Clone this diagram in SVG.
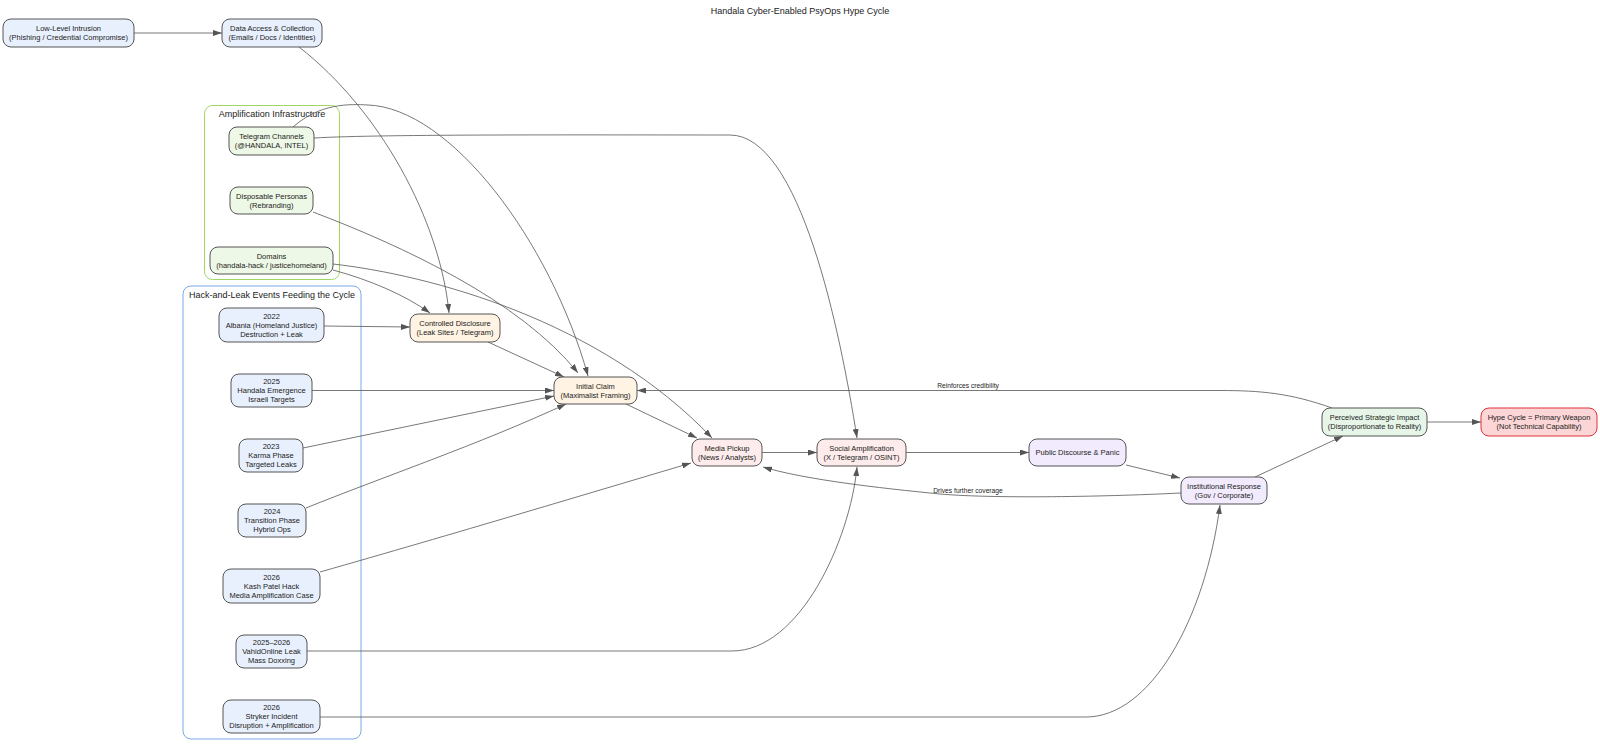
<svg xmlns="http://www.w3.org/2000/svg" width="1600" height="748" viewBox="0 0 1600 748">
<style>
text{font-family:"Liberation Sans",Arial,sans-serif;fill:#222;}
.n{font-size:7.5px;text-anchor:middle;dominant-baseline:central;}
.el{font-size:6.7px;text-anchor:middle;}
.ct{font-size:9px;text-anchor:middle;}
.title{font-size:9px;text-anchor:middle;}
rect.b{stroke:#555;stroke-width:1;}
.blue{fill:#e8f0fe;}
.green{fill:#eef8e6;}
.orange{fill:#fff3e3;}
.pink{fill:#fdeceb;}
.purple{fill:#f2eafd;}
.mint{fill:#e6f5e8;}
.red{fill:#fcd6d6;stroke:#e0303a !important;}
.e{fill:none;stroke:#555;stroke-width:0.8;marker-end:url(#arr);}
.cl{fill:none;stroke-width:1;}
</style>
<defs>
<marker id="arr" markerUnits="userSpaceOnUse" markerWidth="9" markerHeight="6" refX="9" refY="3" orient="auto">
<path d="M0,0 L9,3 L0,6 z" fill="#555"/>
</marker>
</defs>
<rect width="1600" height="748" fill="#fff"/>
<text class="title" x="800" y="14">Handala Cyber-Enabled PsyOps Hype Cycle</text>

<g id="cluster-amp">
<rect class="cl" x="204.5" y="105.5" width="135" height="174" rx="8" stroke="#9fd860"/>
<text class="ct" x="272" y="116.5">Amplification Infrastructure</text>
</g>
<g id="cluster-hack">
<rect class="cl" x="183" y="286" width="178" height="453" rx="8" stroke="#7aa8e8"/>
<text class="ct" x="272" y="297.5">Hack-and-Leak Events Feeding the Cycle</text>
</g>

<g id="connectors">
<path class="e" d="M134,33 L222,33"/>
<path class="e" d="M299,47 C380,110 440,220 449,313"/>
<path class="e" d="M293,127 C320,103 350,104 368,105 C450,108 550,240 588,376"/>
<path class="e" d="M314,138 C380,134 600,135 730,135 C800,135 840,330 857,438"/>
<path class="e" d="M313,212 C400,245 520,300 578,373"/>
<path class="e" d="M333,270 C370,280 405,295 430,313"/>
<path class="e" d="M333,264 C430,275 600,320 712,438"/>
<path class="e" d="M324,326 L410,327"/>
<path class="e" d="M488,342 L564,377"/>
<path class="e" d="M312,390.5 L554,390.5"/>
<path class="e" d="M303,448 L554,396"/>
<path class="e" d="M306,508 C380,478 480,444 566,404"/>
<path class="e" d="M320,572 C450,535 600,490 691,463"/>
<path class="e" d="M307,651 L732,651 C800,651 850,540 857,467"/>
<path class="e" d="M320,717 L1086,717 C1150,717 1205,620 1220,505"/>
<path class="e" d="M626,404 L697,438"/>
<path class="e" d="M762,452.5 L817,452.5"/>
<path class="e" d="M906,452.5 L1029,452.5"/>
<path class="e" d="M1126,465 L1180,478"/>
<path class="e" d="M1255,477 L1343,436"/>
<path class="e" d="M1427,422 L1481,422"/>
<path class="e" d="M1332,408 C1290,393 1260,390.5 1220,390.5 L637,390.5"/>
<path class="e" d="M1181,493 C1100,497 980,499 930,493 C860,486 800,478 763,467"/>
<text class="el" x="968" y="388">Reinforces credibility</text>
<text class="el" x="968" y="492.5">Drives further coverage</text>
</g>

<g id="n-low"><rect class="b blue" x="3" y="19" width="131" height="28" rx="8"/><text class="n" x="68.5" y="28.5">Low-Level Intrusion</text><text class="n" x="68.5" y="37.5">(Phishing / Credential Compromise)</text></g>
<g id="n-data"><rect class="b blue" x="222" y="19" width="100" height="28" rx="8"/><text class="n" x="272" y="28.5">Data Access &amp; Collection</text><text class="n" x="272" y="37.5">(Emails / Docs / Identities)</text></g>

<g id="n-telegram"><rect class="b green" x="229" y="127" width="85" height="28" rx="8"/><text class="n" x="271.5" y="136.5">Telegram Channels</text><text class="n" x="271.5" y="145.5">(@HANDALA, INTEL)</text></g>
<g id="n-personas"><rect class="b green" x="230" y="187" width="83" height="27" rx="8"/><text class="n" x="271.5" y="196">Disposable Personas</text><text class="n" x="271.5" y="205">(Rebranding)</text></g>
<g id="n-domains"><rect class="b green" x="210" y="247" width="123" height="27" rx="8"/><text class="n" x="271.5" y="256">Domains</text><text class="n" x="271.5" y="265">(handala-hack / justicehomeland)</text></g>

<g id="n-albania"><rect class="b blue" x="219" y="308" width="105" height="34" rx="8"/><text class="n" x="271.5" y="316">2022</text><text class="n" x="271.5" y="325">Albania (Homeland Justice)</text><text class="n" x="271.5" y="334">Destruction + Leak</text></g>
<g id="n-handala"><rect class="b blue" x="231" y="374" width="81" height="33" rx="8"/><text class="n" x="271.5" y="381.5">2025</text><text class="n" x="271.5" y="390.5">Handala Emergence</text><text class="n" x="271.5" y="399.5">Israeli Targets</text></g>
<g id="n-karma"><rect class="b blue" x="239" y="439" width="64" height="33" rx="8"/><text class="n" x="271" y="446.5">2023</text><text class="n" x="271" y="455.5">Karma Phase</text><text class="n" x="271" y="464.5">Targeted Leaks</text></g>
<g id="n-transition"><rect class="b blue" x="238" y="504" width="68" height="33" rx="8"/><text class="n" x="272" y="511.5">2024</text><text class="n" x="272" y="520.5">Transition Phase</text><text class="n" x="272" y="529.5">Hybrid Ops</text></g>
<g id="n-kash"><rect class="b blue" x="223" y="569" width="97" height="34" rx="8"/><text class="n" x="271.5" y="577">2026</text><text class="n" x="271.5" y="586">Kash Patel Hack</text><text class="n" x="271.5" y="595">Media Amplification Case</text></g>
<g id="n-vahid"><rect class="b blue" x="236" y="635" width="71" height="33" rx="8"/><text class="n" x="271.5" y="642.5">2025–2026</text><text class="n" x="271.5" y="651.5">VahidOnline Leak</text><text class="n" x="271.5" y="660.5">Mass Doxxing</text></g>
<g id="n-stryker"><rect class="b blue" x="223" y="700" width="97" height="33" rx="8"/><text class="n" x="271.5" y="707.5">2026</text><text class="n" x="271.5" y="716.5">Stryker Incident</text><text class="n" x="271.5" y="725.5">Disruption + Amplification</text></g>

<g id="n-controlled"><rect class="b orange" x="410" y="314" width="90" height="28" rx="8"/><text class="n" x="455" y="323.5">Controlled Disclosure</text><text class="n" x="455" y="332.5">(Leak Sites / Telegram)</text></g>
<g id="n-initial"><rect class="b orange" x="554" y="377" width="83" height="27" rx="8"/><text class="n" x="595.5" y="386">Initial Claim</text><text class="n" x="595.5" y="395">(Maximalist Framing)</text></g>
<g id="n-media"><rect class="b pink" x="692" y="439" width="70" height="27" rx="8"/><text class="n" x="727" y="448">Media Pickup</text><text class="n" x="727" y="457">(News / Analysts)</text></g>
<g id="n-social"><rect class="b pink" x="817" y="439" width="89" height="27" rx="8"/><text class="n" x="861.5" y="448">Social Amplification</text><text class="n" x="861.5" y="457">(X / Telegram / OSINT)</text></g>
<g id="n-public"><rect class="b purple" x="1029" y="439" width="97" height="27" rx="8"/><text class="n" x="1077.5" y="452.5">Public Discourse &amp; Panic</text></g>
<g id="n-inst"><rect class="b purple" x="1181" y="477" width="86" height="27" rx="8"/><text class="n" x="1224" y="486">Institutional Response</text><text class="n" x="1224" y="495">(Gov / Corporate)</text></g>
<g id="n-perceived"><rect class="b mint" x="1322" y="408" width="105" height="28" rx="8"/><text class="n" x="1374.5" y="417.5">Perceived Strategic Impact</text><text class="n" x="1374.5" y="426.5">(Disproportionate to Reality)</text></g>
<g id="n-hype"><rect class="b red" x="1481" y="408" width="116" height="28" rx="8"/><text class="n" x="1539" y="417.5">Hype Cycle = Primary Weapon</text><text class="n" x="1539" y="426.5">(Not Technical Capability)</text></g>
</svg>
